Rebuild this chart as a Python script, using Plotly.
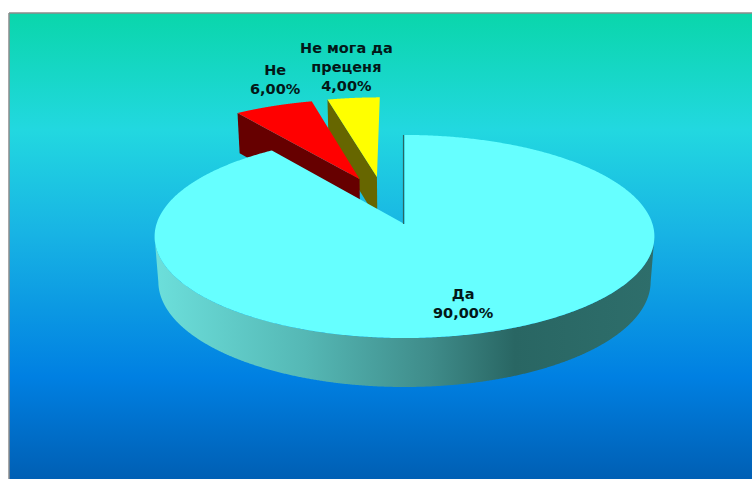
import numpy as np
import plotly.graph_objects as go

# --- data ---
categories = ["Да", "Не", "Не мога да<br>преценя"]
values = [90.0, 6.0, 4.0]

# --- styling / layout (pixel frame of the picture) ---
top_colors = ["#66FFFF", "#FF0000", "#FFFF00"]
wall_colors = ["#2A6663", "#660000", "#666600"]
offsets = [(0.0, 0.0), (-0.192, -0.476), (-0.118, -0.5)]
label_xy = [(463, 303), (275, 79), (346, 67)]
W, H = 752, 479
CX, CY = 404.5, 224.0
B, A, K = 248.0, 100.0, 0.123
DROP, FAR = 45.4, 0.015
WALL_FROM, WALL_TO = 97.4, 262.6


def project(u, v, floor=0):
    d = 1 - K * v + FAR * floor
    return CX + B * u / d, CY + (A * v + DROP * floor) / d


def rim(a0, a1, off=(0, 0), n=721):
    t = np.radians(np.linspace(a0, a1, n))
    return off[0] + np.sin(t), off[1] - np.cos(t)


def poly(xs, ys, color=None, gradient=None):
    kw = dict(fillgradient=gradient) if gradient else dict(fillcolor=color)
    return go.Scatter(x=np.asarray(xs), y=np.asarray(ys), mode="lines", fill="toself",
                      line=dict(width=0, simplify=False), hoverinfo="skip", showlegend=False, **kw)


edges = np.concatenate([[0], np.cumsum(values)]) / sum(values) * 360
fig = go.Figure()

# background plate with its vertical gradient
fig.add_trace(go.Scatter(
    x=[9, 770, 770, 9, 9], y=[13, 13, 490, 490, 13], mode="lines", fill="toself",
    line=dict(width=1.5, color="#8C8C8C"), hoverinfo="skip", showlegend=False,
    fillgradient=dict(type="vertical", start=13, stop=479, colorscale=[
        [0.0, "#0AD6AB"], [0.25, "#22D8E0"], [0.47, "#18B4E4"],
        [0.78, "#0080E2"], [1.0, "#005FB4"]]),
))

# exploded slices, far ones first: yellow, then red
for i in (2, 1):
    a0, a1 = edges[i], edges[i + 1]
    off = offsets[i]
    eu, ev = rim(a0, a0, off, 1)
    # cut wall facing the viewer
    tx, ty = project(np.r_[off[0], eu[0]], np.r_[off[1], ev[0]])
    bx, by = project(np.r_[eu[0], off[0]], np.r_[ev[0], off[1]], 1)
    fig.add_trace(poly(np.r_[tx, bx], np.r_[ty, by], wall_colors[i]))
    # top face
    ru, rv = rim(a0, a1, off)
    x, y = project(np.r_[off[0], ru], np.r_[off[1], rv])
    fig.add_trace(poly(x, y, top_colors[i]))

# main slice: curved wall with a horizontal shading, then the top face
a0, a1 = edges[0], edges[1]
wu, wv = rim(WALL_FROM, WALL_TO)
tx, ty = project(wu, wv)
bx, by = project(wu[::-1], wv[::-1], 1)
fig.add_trace(poly(np.r_[tx, bx], np.r_[ty, by], gradient=dict(
    type="horizontal", start=155, stop=655, colorscale=[
        [0.0, "#6CDFDB"], [0.3, "#55B8B5"], [0.55, "#3F8C8A"],
        [0.72, "#296663"], [1.0, "#2E6E6B"]])))
ru, rv = rim(a0, a1)
x, y = project(np.r_[0, ru], np.r_[0, rv])
fig.add_trace(poly(x, y, top_colors[0]))
# edge-on cut wall at the start of the main slice
cx0, cy0 = project(np.array([0.0, 0.0]), np.array([-1.0, 0.0]))
fig.add_trace(go.Scatter(x=cx0 - 1, y=cy0, mode="lines", hoverinfo="skip", showlegend=False,
                         line=dict(color=wall_colors[0], width=1.2)))

for name, val, (lx, ly) in zip(categories, values, label_xy):
    fig.add_annotation(x=lx, y=ly, xref="x", yref="y", showarrow=False,
                       text=f"{name}<br>{val:.2f}%".replace(".", ","), align="center",
                       font=dict(family="DejaVu Sans", size=14.5, color="#031818", weight="bold"))

fig.update_layout(
    width=W, height=H, margin=dict(l=0, r=0, t=0, b=0),
    paper_bgcolor="white", plot_bgcolor="white", showlegend=False,
    xaxis=dict(range=[0, W], visible=False, fixedrange=True),
    yaxis=dict(range=[H, 0], visible=False, fixedrange=True),
)
fig.write_html("out.html", config=dict(displayModeBar=False),
               post_script="document.body.style.margin='0';document.body.style.overflow='hidden';")
